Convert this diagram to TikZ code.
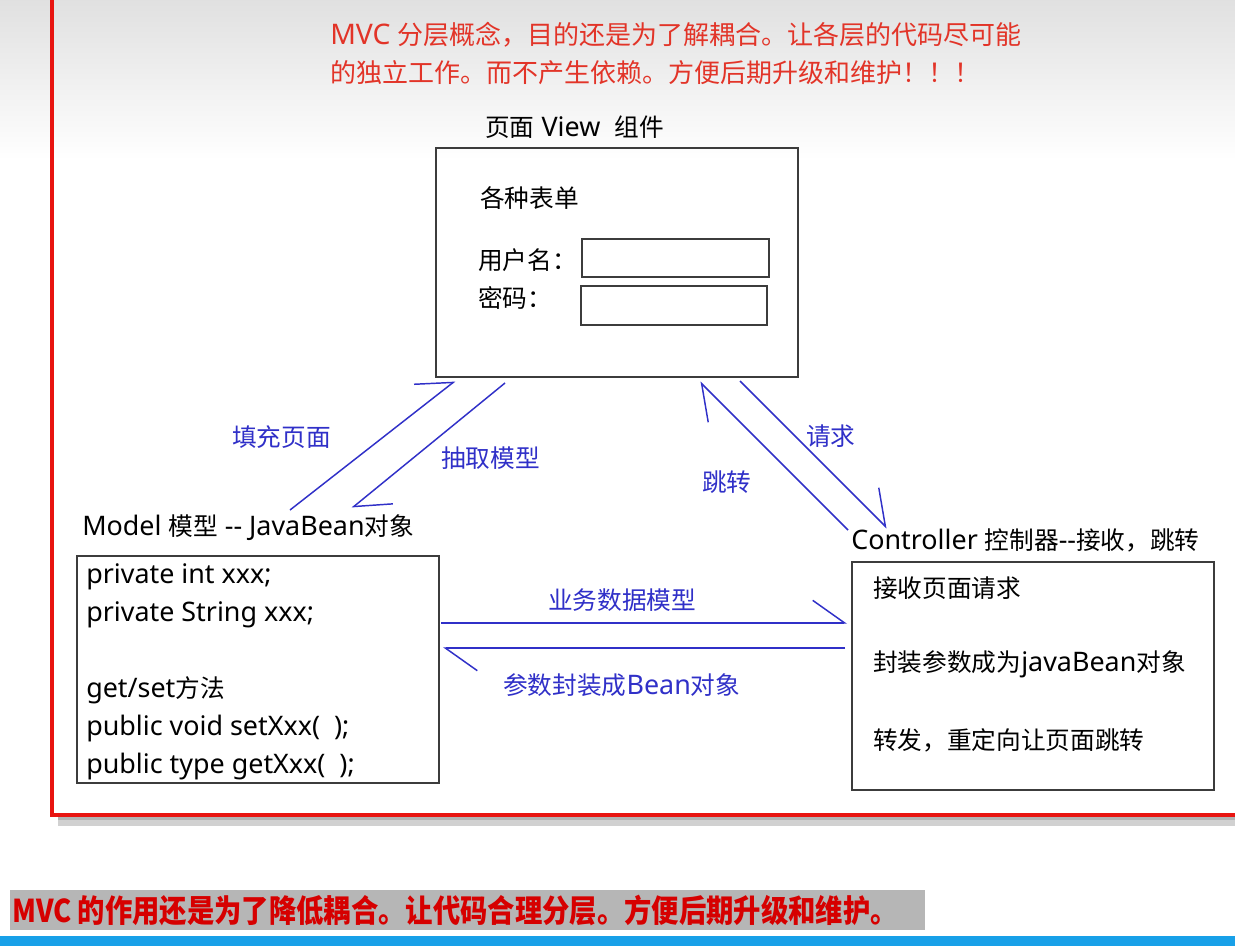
\documentclass[tikz,border=0pt]{standalone}
\usepackage{fontspec}
\setmainfont{Noto Sans}[Scale=1.09]
\newfontfamily\cjkfont{Noto Sans CJK SC}
\usetikzlibrary{arrows.meta}

\definecolor{framered}{RGB}{232,20,16}
\definecolor{notered}{RGB}{226,52,40}
\definecolor{linkblue}{RGB}{48,48,200}
\definecolor{boxgray}{RGB}{60,60,60}
\definecolor{bargray}{RGB}{182,182,182}
\definecolor{barred}{RGB}{214,0,0}
\definecolor{edgeblue}{RGB}{24,160,232}

\tikzset{
  box/.style={draw=boxgray, line width=1.4pt, anchor=north west, inner sep=0pt},
  txt/.style={anchor=west, inner sep=0pt, font=\fontsize{18.5}{22}\selectfont},
  lbl/.style={txt, text=linkblue},
  note/.style={anchor=west, inner sep=0pt, text=notered, font=\fontsize{19.5}{24}\selectfont},
  flow/.style={linkblue, line width=1.1pt,
    -{Straight Barb[harpoon, length=24pt, width=34pt, line width=1.1pt]}},
}

\begin{document}
\begin{tikzpicture}[x=0.75pt, y=-0.75pt]
\useasboundingbox (0,0) rectangle (1235,946);
% Fundo
\fill[white] (0,0) rectangle (1235,946);
\shade[top color=black!12, bottom color=white] (0,0) rectangle (1235,160);
% Moldura vermelha
\begin{scope}
\clip (0,0) rectangle (1235,946);
\fill[black!18] (58,816) rectangle (1240,826); % sombra
\fill[black!30] (58,815) rectangle (1240,820);
\draw[framered, line width=2.4pt] (52,-20) rectangle (1260,815);
\end{scope}

% Nota superior
\node[note] (note1) at (330,35) {MVC {\cjkfont 分层概念，目的还是为了解耦合。让各层的代码尽可能}};
\node[note] (note2) at (330,73) {\cjkfont 的独立工作。而不产生依赖。方便后期升级和维护！！！};

% Pagina View
\node[txt] (vtitle) at (485,127) {{\cjkfont 页面} View\ \ {\cjkfont 组件}};
\node[box, minimum width=271.5pt, minimum height=171.75pt] (view) at (435,147) {};
\node[txt] (forms) at (480,198) {\cjkfont 各种表单};
\node[txt] (user) at (478,260) {\cjkfont 用户名：};
\node[txt] (pwd) at (478,298) {\cjkfont 密码：};
\node[box, minimum width=140.25pt, minimum height=28.5pt] (userin) at (581,238) {};
\node[box, minimum width=139.5pt, minimum height=29.25pt] (pwdin) at (580,285) {};

% Model
\node[txt] (mtitle) at (82,528) {Model {\cjkfont 模型} -{}- JavaBean{\cjkfont 对象}};
\node[box, minimum width=271.5pt, minimum height=170.25pt] (model) at (76,555) {};
\node[txt] (m1) at (86,577) {private int xxx;};
\node[txt] (m2) at (86,615) {private String xxx;};
\node[txt] (m3) at (86,690) {get/set{\cjkfont 方法}};
\node[txt] (m4) at (86,728) {public void setXxx(\ \ );};
\node[txt] (m5) at (86,766) {public type getXxx(\ \ );};

% Controller
\node[txt] (ctitle) at (851,540) {Controller {\cjkfont 控制器}-{}-{\cjkfont 接收，跳转}};
\node[box, minimum width=271.5pt, minimum height=171pt] (ctrl) at (851,561) {};
\node[txt] (c1) at (873,588) {\cjkfont 接收页面请求};
\node[txt] (c2) at (873,664) {{\cjkfont 封装参数成为}javaBean{\cjkfont 对象}};
\node[txt] (c3) at (873,740) {\cjkfont 转发，重定向让页面跳转};

% Setas
\coordinate (fill-a) at (290,510); \coordinate (fill-b) at (455,381);
\coordinate (pick-a) at (505,383); \coordinate (pick-b) at (352,508);
\coordinate (jump-a) at (848,530); \coordinate (jump-b) at (700,382);
\coordinate (req-a) at (740,381); \coordinate (req-b) at (887,528);
\coordinate (data-a) at (441,623); \coordinate (data-b) at (847,623);
\coordinate (bean-a) at (845,648); \coordinate (bean-b) at (443,648);
\draw[flow] (fill-a) -- (fill-b);
\draw[flow] (pick-a) -- (pick-b);
\draw[flow] (jump-a) -- (jump-b);
\draw[flow] (req-a) -- (req-b);
\draw[flow] (data-a) -- (data-b);
\draw[flow] (bean-a) -- (bean-b);
\node[lbl] (lfill) at (232,437) {\cjkfont 填充页面};
\node[lbl] (lpick) at (441,458) {\cjkfont 抽取模型};
\node[lbl] (ljump) at (702,482) {\cjkfont 跳转};
\node[lbl] (lreq) at (806,436) {\cjkfont 请求};
\node[lbl] (ldata) at (548,600) {\cjkfont 业务数据模型};
\node[lbl] (lbean) at (503,685) {{\cjkfont 参数封装成}Bean{\cjkfont 对象}};

% Faixa inferior
\fill[bargray] (10,890) rectangle (925,930);
\node[anchor=west, inner sep=0pt, text=barred, font=\cjkfont\fontsize{20.5}{24}\bfseries] (summary) at (12,910)
  {\scalebox{1}[1.15]{MVC 的作用还是为了降低耦合。让代码合理分层。方便后期升级和维护。}};
\fill[edgeblue] (0,936) rectangle (1235,946);
\end{tikzpicture}
\end{document}
